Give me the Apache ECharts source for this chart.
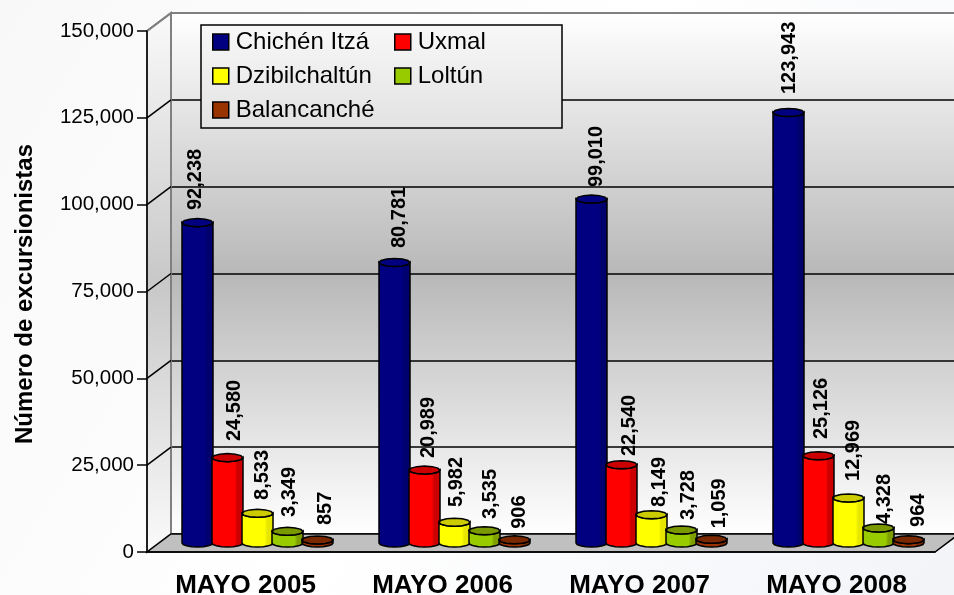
<!DOCTYPE html>
<html>
<head>
<meta charset="utf-8">
<script src="https://cdn.jsdelivr.net/npm/echarts@6/dist/echarts.min.js"></script>
<style>html,body{margin:0;padding:0;background:#fff}#chart{width:954px;height:595px}</style>
</head>
<body>
<div id="chart"></div>
<script>
var categories = ['MAYO 2005', 'MAYO 2006', 'MAYO 2007', 'MAYO 2008'];
var chichenItza = [92238, 80781, 99010, 123943];
var uxmal = [24580, 20989, 22540, 25126];
var dzibilchaltun = [8533, 5982, 8149, 12969];
var loltun = [3349, 3535, 3728, 4328];
var balancanche = [857, 906, 1059, 964];
var yTicks = [0, 25000, 50000, 75000, 100000, 125000, 150000];

var FONT = '"Liberation Sans", Arial, sans-serif';
var DX = 24, DY = -18;   // depth of the fake 3d box
var BAR_STEP = 30, BAR_R = 15.5, CAP_RY = 4;

// hand placed labels in the original: [sideways shift, gap over the bar] per year
var labelPos = [
  [[-2, 12.6], [5, 14.4], [5, 12], [0.5, 18.5]],
  [[7, 16.6], [4, 12], [8, 8.7], [3, 16.7]],
  [[5, 13.4], [2, 15.2], [8, 7.7], [5, 17]],
  [[2, 14.4], [6, 11.7], [7, 10], [6, 4]],
  [[8, 15], [5, 11], [8, 11], [10, 12.7]]
];

function fmt(v) { return String(v).replace(/\B(?=(\d{3})+$)/g, ','); }

function arc(cx, cy, from, to, n) {
  var pts = [];
  for (var i = 0; i <= n; i++) {
    var a = from + (to - from) * i / n;
    pts.push([cx + BAR_R * Math.cos(a), cy + CAP_RY * Math.sin(a)]);
  }
  return pts;
}

function barSeries(name, values, idx, light, dark, cap) {
  return {
    name: name,
    type: 'custom',
    z: 3,
    clip: false,
    xAxisIndex: 0,
    yAxisIndex: 0,
    itemStyle: {color: light},
    data: values.map(function (v, i) { return [i, v]; }),
    renderItem: function (params, api) {
      var top = api.coord([api.value(0), api.value(1)]);
      var base = api.coord([api.value(0), 0]);
      var cx = top[0] + (idx - 2) * BAR_STEP + DX / 2;
      var ty = top[1] + DY / 2;
      var by = base[1] + DY / 2;
      var body = arc(cx, by, 0, Math.PI, 8);
      body.reverse();
      var pts = [[cx - BAR_R, ty]].concat(body, [[cx + BAR_R, ty]], arc(cx, ty, 0, Math.PI, 8));
      var pos = labelPos[idx][params.dataIndex];
      return {
        type: 'group',
        children: [
          {
            type: 'polygon',
            shape: {points: pts},
            style: {
              stroke: '#000',
              lineWidth: 1.5,
              fill: new echarts.graphic.LinearGradient(0, 0, 1, 0, [
                {offset: 0, color: light},
                {offset: 0.72, color: light},
                {offset: 0.8, color: dark},
                {offset: 1, color: dark}
              ])
            }
          },
          {
            type: 'polygon',
            shape: {points: arc(cx, ty, 0, 2 * Math.PI, 12)},
            style: {fill: cap, stroke: '#000', lineWidth: 1.5}
          },
          {
            type: 'text',
            x: cx + pos[0],
            y: ty - pos[1],
            rotation: Math.PI / 2,
            style: {
              text: fmt(api.value(1)),
              align: 'left',
              verticalAlign: 'middle',
              fill: '#000',
              font: 'bold 20px ' + FONT
            }
          }
        ]
      };
    }
  };
}

var frameSeries = {
  name: 'frame',
  type: 'custom',
  z: 1,
  clip: false,
  silent: true,
  xAxisIndex: 0,
  yAxisIndex: 0,
  data: yTicks.map(function (t) { return [0, t]; }),
  renderItem: function (params, api) {
    var cs = params.coordSys;
    var y = api.coord([0, api.value(1)])[1];
    var x0 = cs.x, x1 = cs.x + cs.width;
    var kids = [];
    if (params.dataIndex === 0) {
      kids.push({
        type: 'polygon',
        shape: {points: [[x0, cs.y], [x0 + DX, cs.y + DY], [x0 + DX, y + DY], [x0, y]]},
        style: {
          stroke: '#808080',
          lineWidth: 2,
          fill: new echarts.graphic.LinearGradient(0, 0, 0, 1, [
            {offset: 0, color: '#fafafa'},
            {offset: 0.5, color: '#c8c8c8'},
            {offset: 1, color: '#fafafa'}
          ])
        }
      });
      kids.push({
        type: 'polygon',
        shape: {points: [[x0, y], [x0 + DX, y + DY], [x1 + DX, y + DY], [x1, y]]},
        style: {fill: '#c0c0c0', stroke: '#000', lineWidth: 1.5}
      });
    }
    if (params.dataIndex === yTicks.length - 1) {
      kids.push({
        type: 'polyline',
        shape: {points: [[x0, y], [x0 + DX, y + DY], [x1 + DX, y + DY]]},
        style: {stroke: '#808080', lineWidth: 2, fill: null}
      });
    } else if (params.dataIndex > 0) {
      kids.push({
        type: 'line',
        shape: {x1: x0, y1: y, x2: x0 + DX, y2: y + DY},
        style: {stroke: '#000', lineWidth: 1.5}
      });
    }
    return {type: 'group', children: kids};
  }
};

var chart = echarts.init(document.getElementById('chart'), null, {renderer: 'canvas'});

var legendBase = {
  orient: 'vertical', top: 30, itemWidth: 16, itemHeight: 16, itemGap: 10,
  icon: 'rect', z: 6, padding: 0,
  itemStyle: {borderColor: '#000', borderWidth: 1.5},
  textStyle: {color: '#000', fontFamily: FONT, fontSize: 24, padding: [8, 0, 0, 2]}
};

var option = {
  animation: false,
  backgroundColor: new echarts.graphic.LinearGradient(0, 0, 1, 1, [
    {offset: 0, color: '#f8f8f8'},
    {offset: 0.5, color: '#ffffff'},
    {offset: 1, color: '#f2f4f8'}
  ]),
  grid: [
    {left: 147, top: 31, width: 788, height: 521, outerBoundsMode: 'none'},
    {
      left: 171, top: 13, width: 788, height: 521, outerBoundsMode: 'none',
      show: true, borderWidth: 0,
      backgroundColor: new echarts.graphic.LinearGradient(0, 0, 0, 1, [
        {offset: 0, color: '#ffffff'},
        {offset: 0.5, color: '#b8b8b8'},
        {offset: 1, color: '#ffffff'}
      ])
    }
  ],
  xAxis: [
    {
      type: 'category',
      gridIndex: 0,
      data: categories,
      z: 5,
      axisLine: {lineStyle: {color: '#000', width: 1.5}},
      axisTick: {length: 8, lineStyle: {color: '#000', width: 1.5}},
      axisLabel: {color: '#000', fontFamily: FONT, fontWeight: 'bold', fontSize: 26, margin: 21}
    },
    {type: 'category', gridIndex: 1, data: categories, show: false}
  ],
  yAxis: [
    {
      type: 'value',
      gridIndex: 0,
      min: 0, max: 150000, interval: 25000,
      z: 5,
      name: 'Número de excursionistas',
      nameLocation: 'middle',
      nameRotate: 90,
      nameGap: 110,
      nameTextStyle: {color: '#000', fontFamily: FONT, fontWeight: 'bold', fontSize: 24, padding: [0, 5, 0, 0]},
      axisLine: {show: true, lineStyle: {color: '#000', width: 1.5}},
      axisTick: {show: true, length: 10, lineStyle: {color: '#000', width: 1.5}},
      axisLabel: {color: '#000', fontFamily: FONT, fontSize: 20.5, margin: 13, padding: [3, 0, 0, 0], formatter: fmt},
      splitLine: {show: false}
    },
    {
      type: 'value',
      gridIndex: 1,
      min: 0, max: 150000, interval: 25000,
      axisLine: {show: false},
      axisTick: {show: false},
      axisLabel: {show: false},
      splitLine: {show: true, showMaxLine: false, lineStyle: {color: '#000', width: 1.5}}
    }
  ],
  legend: [
    Object.assign({}, legendBase, {left: 212, data: ['Chichén Itzá', 'Dzibilchaltún', 'Balancanché']}),
    Object.assign({}, legendBase, {left: 394, data: ['Uxmal', 'Loltún']})
  ],
  graphic: [
    {
      type: 'rect',
      z: 4,
      shape: {x: 201, y: 25, width: 361, height: 103},
      style: {
        stroke: '#000',
        lineWidth: 1.5,
        fill: new echarts.graphic.LinearGradient(0, 0, 0, 1, [
          {offset: 0, color: '#f8f8f8'},
          {offset: 1, color: '#e2e2e2'}
        ])
      }
    }
  ],
  series: [
    frameSeries,
    barSeries('Chichén Itzá', chichenItza, 0, '#000080', '#00006e', '#000080'),
    barSeries('Uxmal', uxmal, 1, '#ff0000', '#cc0000', '#cc0000'),
    barSeries('Dzibilchaltún', dzibilchaltun, 2, '#ffff00', '#e6e600', '#cccc00'),
    barSeries('Loltún', loltun, 3, '#99cc00', '#7f9f00', '#7a9900'),
    barSeries('Balancanché', balancanche, 4, '#993300', '#7a2800', '#7a2800')
  ]
};

chart.setOption(option);
</script>
</body>
</html>
